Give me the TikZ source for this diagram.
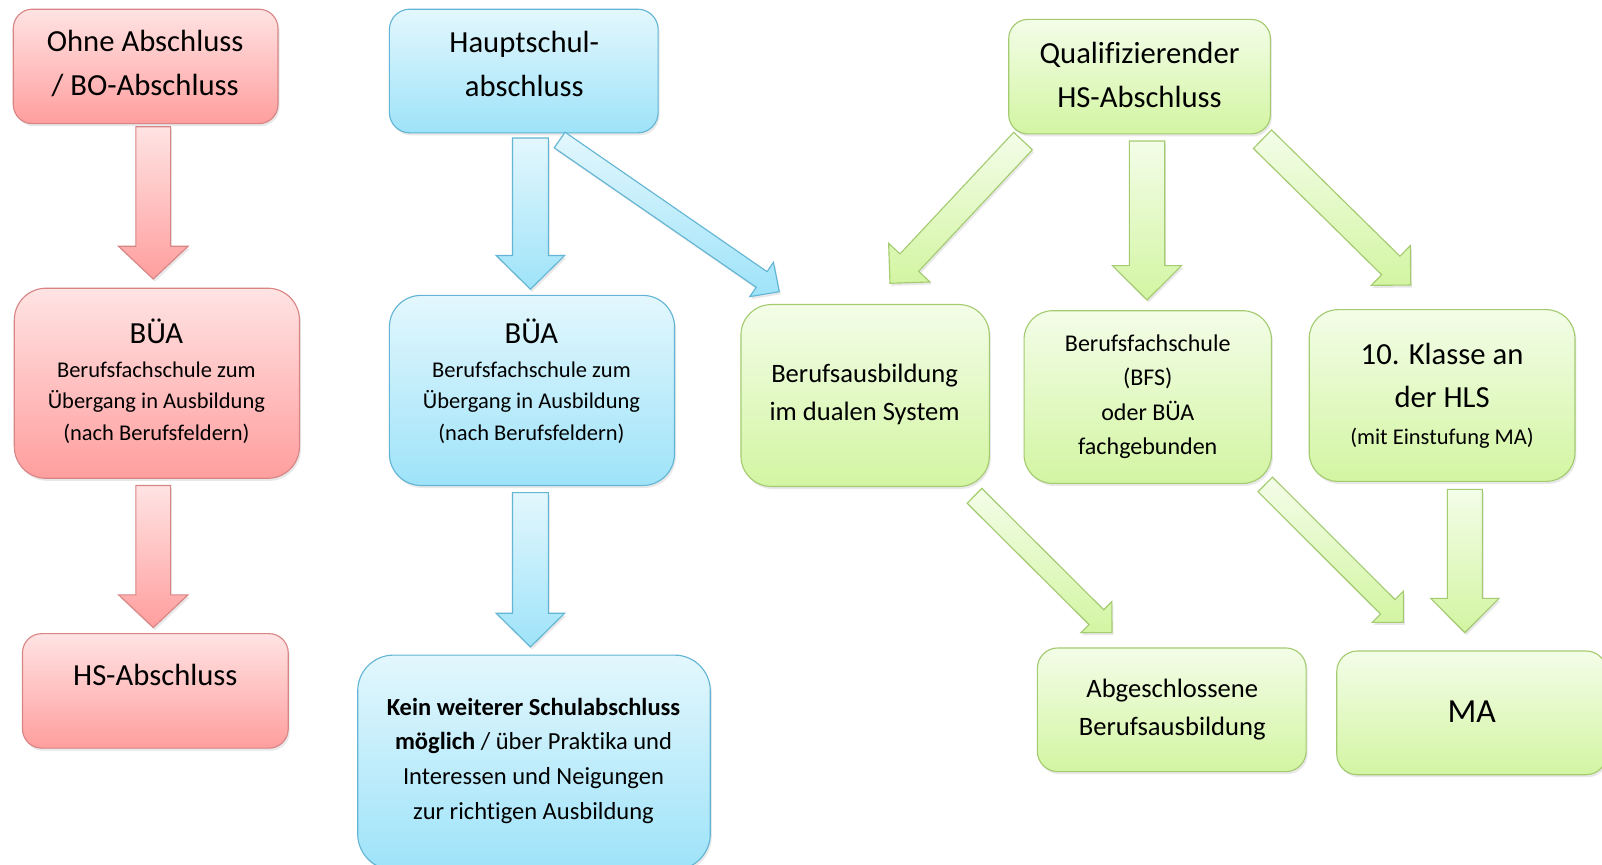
\documentclass[tikz,border=0pt]{standalone}
\usepackage{fontspec}
\setmainfont{Carlito}[Ligatures=NoCommon]
\usetikzlibrary{calc,shadows}
\definecolor{rtop}{HTML}{FFE3E3}
\definecolor{rbot}{HTML}{FF9E9E}
\definecolor{rline}{HTML}{D98585}
\definecolor{btop}{HTML}{E3F7FD}
\definecolor{bbot}{HTML}{9EE3F9}
\definecolor{bline}{HTML}{62B5D4}
\definecolor{gtop}{HTML}{F3FDE8}
\definecolor{gbot}{HTML}{D3F5A2}
\definecolor{gline}{HTML}{A4CB70}
\newcommand\blockarr[6]{%
  \coordinate (bh) at ($(#2)!#5!(#1)$);
  \draw[#6] ($(#1)!#3!90:(#2)$) -- ($(bh)!#3!90:(#2)$) -- ($(bh)!#4!90:(#2)$) -- (#2)
    -- ($(bh)!#4!-90:(#2)$) -- ($(bh)!#3!-90:(#2)$) -- ($(#1)!#3!-90:(#2)$) -- cycle;
}
\begin{document}
\begin{tikzpicture}[x=1pt,y=-1pt,
  shad/.style={drop shadow={shadow xshift=1.5pt,shadow yshift=-2.5pt,opacity=0.18}},
  box/.style={rectangle,rounded corners=#1,line width=1.1pt,outer sep=0pt,inner sep=0pt,shad},
  redbox/.style={top color=rtop,bottom color=rbot,draw=rline},
  bluebox/.style={top color=btop,bottom color=bbot,draw=bline},
  greenbox/.style={top color=gtop,bottom color=gbot,draw=gline},
  redarr/.style={top color=rtop,bottom color=rbot,draw=rline,line width=1.1pt,line join=miter,shad},
  bluearr/.style={top color=btop,bottom color=bbot,draw=bline,line width=1.1pt,line join=miter,shad},
  greenarr/.style={top color=gtop,bottom color=gbot,draw=gline,line width=1.1pt,line join=miter,shad},
  tl/.style={anchor=base,inner sep=0pt,font=\fontsize{30}{36}\selectfont},
  tm/.style={anchor=base,inner sep=0pt,font=\fontsize{26}{31}\selectfont},
  tk/.style={anchor=base,inner sep=0pt,font=\fontsize{24}{29}\selectfont},
  tb/.style={anchor=base,inner sep=0pt,font=\fontsize{23.5}{28}\selectfont},
  ts/.style={anchor=base,inner sep=0pt,font=\fontsize{22}{26}\selectfont},
  tx/.style={anchor=base,inner sep=0pt,font=\fontsize{33}{40}\selectfont}]
\clip (0,0) rectangle (1567.5,845.4);
\fill[white] (0,0) rectangle (1567.5,845.4);

% boxes
\node[box=18.7pt,redbox,minimum width=259pt,minimum height=112pt] (r1) at (142.5,65) {};
\node[box=31pt,redbox,minimum width=279pt,minimum height=186pt] (r2) at (153.5,375) {};
\node[box=18.7pt,redbox,minimum width=260pt,minimum height=112pt] (r3) at (152,676) {};
\node[box=20pt,bluebox,minimum width=263pt,minimum height=121pt] (b1) at (512.5,69.5) {};
\node[box=31pt,bluebox,minimum width=279pt,minimum height=186pt] (b2) at (520.5,382) {};
\node[box=35pt,bluebox,minimum width=345pt,minimum height=210pt] (b3) at (522.5,746) {};
\node[box=18.7pt,greenbox,minimum width=256pt,minimum height=112pt] (g1) at (1115,75) {};
\node[box=29.7pt,greenbox,minimum width=243pt,minimum height=178pt] (g2) at (846.5,387) {};
\node[box=28pt,greenbox,minimum width=242pt,minimum height=169pt] (g3) at (1123,388.5) {};
\node[box=28pt,greenbox,minimum width=260pt,minimum height=168pt] (g4) at (1411,387) {};
\node[box=20pt,greenbox,minimum width=263pt,minimum height=121pt] (g5) at (1146.5,694.5) {};
\node[box=20pt,greenbox,minimum width=264pt,minimum height=121pt] (g6) at (1440,697.5) {};

% arrow end points
\coordinate (ra1s) at (150,124);   \coordinate (ra1e) at (150,273);
\coordinate (ra2s) at (150,475);   \coordinate (ra2e) at (150,614);
\coordinate (ba1s) at (519,135);   \coordinate (ba1e) at (519,283);
\coordinate (ba2s) at (519,482);   \coordinate (ba2e) at (519,633);
\coordinate (bdS) at (547.6,137);  \coordinate (bdE) at (762.5,285.4);
\coordinate (gaS) at (1001,138);   \coordinate (gaE) at (870.8,277.2);
\coordinate (gbS) at (1122.3,138); \coordinate (gbE) at (1122.3,293.5);
\coordinate (gcS) at (1235.3,136.2); \coordinate (gcE) at (1380.3,278.9);
\coordinate (gdS) at (953.5,485.1); \coordinate (gdE) at (1088,619);
\coordinate (geS) at (1238,474);   \coordinate (geE) at (1373.1,608.9);
\coordinate (gfS) at (1433.3,478.8); \coordinate (gfE) at (1433.3,619);

\blockarr{ra1s}{ra1e}{17pt}{34pt}{32pt}{redarr}
\blockarr{ra2s}{ra2e}{17pt}{34pt}{32pt}{redarr}
\blockarr{ba1s}{ba1e}{17.5pt}{33.5pt}{33pt}{bluearr}
\blockarr{ba2s}{ba2e}{17.5pt}{33.5pt}{33pt}{bluearr}
\blockarr{bdS}{bdE}{9.3pt}{20.4pt}{21pt}{bluearr}
\blockarr{gaS}{gaE}{12.5pt}{27.7pt}{27.7pt}{greenarr}
\blockarr{gbS}{gbE}{17.3pt}{33.8pt}{33.6pt}{greenarr}
\blockarr{gcS}{gcE}{12.7pt}{27.3pt}{27.3pt}{greenarr}
\blockarr{gdS}{gdE}{10.2pt}{21.5pt}{21.5pt}{greenarr}
\blockarr{geS}{geE}{10pt}{21.5pt}{21.5pt}{greenarr}
\blockarr{gfS}{gfE}{17.1pt}{33.4pt}{33.5pt}{greenarr}

% texts
\node[tl] (r1a) at (142,50.5) {Ohne Abschluss};
\node[tl] (r1b) at (142,93.5) {/ BO-Abschluss};
\node[tl] (r2a) at (153,336) {BÜA};
\node[ts] (r2b) at (153,369) {Berufsfachschule zum};
\node[ts] (r2c) at (153,400) {Übergang in Ausbildung};
\node[ts] (r2d) at (153,431) {(nach Berufsfeldern)};
\node[tl] (r3a) at (152,670.6) {HS-Abschluss};

\node[tl] (b1a) at (513,51.6) {Hauptschul-};
\node[tl] (b1b) at (513,94.6) {abschluss};
\node[tl] (b2a) at (520,336) {BÜA};
\node[ts] (b2b) at (520,369) {Berufsfachschule zum};
\node[ts] (b2c) at (520,400) {Übergang in Ausbildung};
\node[ts] (b2d) at (520,431) {(nach Berufsfeldern)};
\node[tk] (b3a) at (522,699.7) {\textbf{Kein weiterer Schulabschluss}};
\node[tk] (b3b) at (522,733.7) {\textbf{möglich} / über Praktika und};
\node[tk] (b3c) at (522,767.7) {Interessen und Neigungen};
\node[tk] (b3d) at (522,801.7) {zur richtigen Ausbildung};

\node[tl] (g1a) at (1115,62.6) {Qualifizierender};
\node[tl] (g1b) at (1115,105.6) {HS-Abschluss};
\node[tm] (g2a) at (846,374.3) {Berufsausbildung};
\node[tm] (g2b) at (846,411.3) {im dualen System};
\node[tb] (g3a) at (1123,343.5) {Berufsfachschule};
\node[tb] (g3b) at (1123,377.5) {(BFS)};
\node[tb] (g3c) at (1123,411.5) {oder BÜA};
\node[tb] (g3d) at (1123,444.5) {fachgebunden};
\node[tl] (g4a) at (1411,356.6) {10. Klasse an};
\node[tl] (g4b) at (1411,398.6) {der HLS};
\node[ts] (g4c) at (1411,435.4) {(mit Einstufung MA)};
\node[tm] (g5a) at (1147,682.3) {Abgeschlossene};
\node[tm] (g5b) at (1147,719.3) {Berufsausbildung};
\node[tx] (g6a) at (1440,706.6) {MA};
\end{tikzpicture}
\end{document}
